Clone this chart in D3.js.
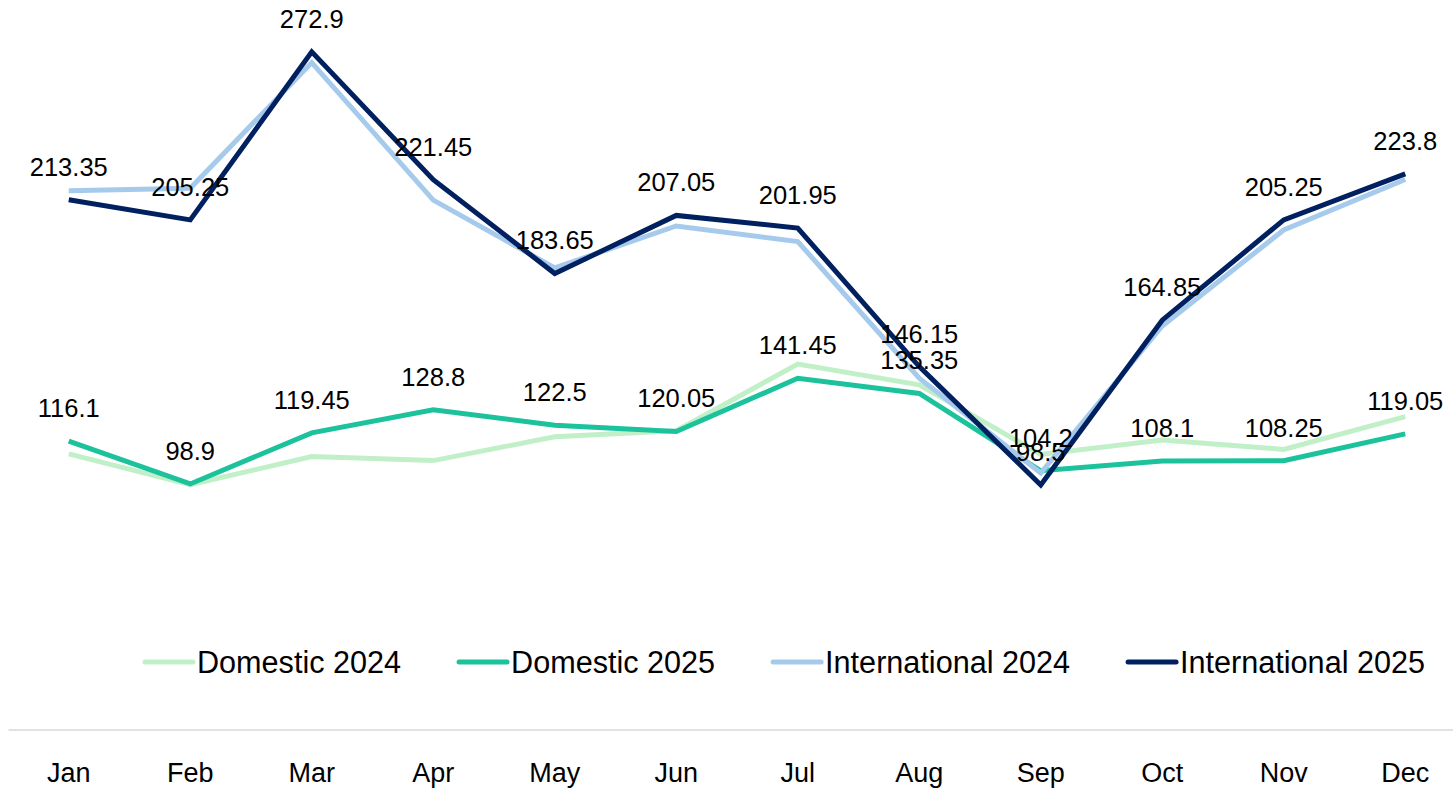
<!DOCTYPE html>
<html>
<head>
    <script src="https://d3js.org/d3.v7.min.js"></script>
    <style>
        body { margin: 0; background: #fff; }
        text { font-family: "Liberation Sans", Arial, sans-serif; fill: #000; }
    </style>
</head>
<body>
    <svg width="1453" height="790"></svg>
    <script>
        var months = ["Jan", "Feb", "Mar", "Apr", "May", "Jun", "Jul", "Aug", "Sep", "Oct", "Nov", "Dec"];
        var domestic2024 = [111.0, 98.6, 109.9, 108.3, 117.9, 120.3, 147.2, 138.8, 110.8, 116.6, 112.8, 126.0];
        var domestic2025 = [116.1, 98.9, 119.45, 128.8, 122.5, 120.05, 141.45, 135.35, 104.2, 108.1, 108.25, 119.05];
        var international2024 = [217.0, 218.0, 268.6, 213.2, 185.9, 202.8, 196.5, 141.5, 103.3, 162.5, 201.2, 221.5];
        var international2025 = [213.35, 205.25, 272.9, 221.45, 183.65, 207.05, 201.95, 146.15, 98.5, 164.85, 205.25, 223.8];

        var seriesNames = ["Domestic 2024", "Domestic 2025", "International 2024", "International 2025"];
        var seriesValues = [domestic2024, domestic2025, international2024, international2025];
        var seriesColors = ["#c1f0c8", "#1cc29c", "#a6caec", "#002060"];
        var labelled = [false, true, false, true];

        var svg = d3.select("svg");

        var x = d3.scaleBand().domain(months).range([8, 1466]).paddingInner(0).paddingOuter(0);
        var y = d3.scaleLinear().domain([0, 300]).range([729.5, 729.5 - 300 * 2.483]);
        var cx = function(m) { return x(m) + x.bandwidth() / 2; };

        // category axis
        var axis = svg.append("g")
            .attr("transform", "translate(0," + y(0) + ")")
            .call(d3.axisBottom(x).tickSize(0).tickPadding(0));
        axis.select(".domain").attr("stroke", "#d9d9d9").attr("stroke-width", 1.5);
        axis.selectAll(".tick text")
            .attr("y", 52)
            .attr("dy", null)
            .style("font-size", "27px")
            .style("font-family", "'Liberation Sans', Arial, sans-serif")
            .attr("fill", "#000");

        var line = d3.line()
            .x(function(d, i) { return cx(months[i]); })
            .y(function(d) { return y(d); });

        seriesValues.forEach(function(vals, s) {
            svg.append("path")
                .datum(vals)
                .attr("d", line)
                .attr("fill", "none")
                .attr("stroke", seriesColors[s])
                .attr("stroke-width", 5)
                .attr("stroke-linejoin", "miter")
                .attr("stroke-linecap", "butt");
        });

        // data labels for the 2025 series
        seriesValues.forEach(function(vals, s) {
            if (!labelled[s]) return;
            svg.append("g").selectAll("text")
                .data(vals)
                .enter().append("text")
                .attr("x", function(d, i) { return cx(months[i]); })
                .attr("y", function(d) { return y(d) - 24; })
                .attr("text-anchor", "middle")
                .style("font-size", "25.5px")
                .text(function(d) { return d; });
        });

        // legend
        var legend = svg.append("g").attr("transform", "translate(0,662)");
        var swatchW = 48, swatchGap = 4, itemGap = 58;
        var items = legend.selectAll("g").data(seriesNames).enter().append("g");
        items.append("line")
            .attr("x1", 0).attr("x2", swatchW)
            .attr("y1", 0).attr("y2", 0)
            .attr("stroke", function(d, i) { return seriesColors[i]; })
            .attr("stroke-width", 5)
            .attr("stroke-linecap", "round");
        items.append("text")
            .attr("x", swatchW + swatchGap)
            .attr("y", 11)
            .style("font-size", "30.6px")
            .text(function(d) { return d; });

        var widths = [];
        items.each(function() {
            widths.push(swatchW + swatchGap + d3.select(this).select("text").node().getComputedTextLength());
        });
        var total = d3.sum(widths) + itemGap * (widths.length - 1);
        var pos = 785 - total / 2;
        items.attr("transform", function(d, i) {
            var p = pos;
            pos += widths[i] + itemGap;
            return "translate(" + p + ",0)";
        });
    </script>
</body>
</html>
